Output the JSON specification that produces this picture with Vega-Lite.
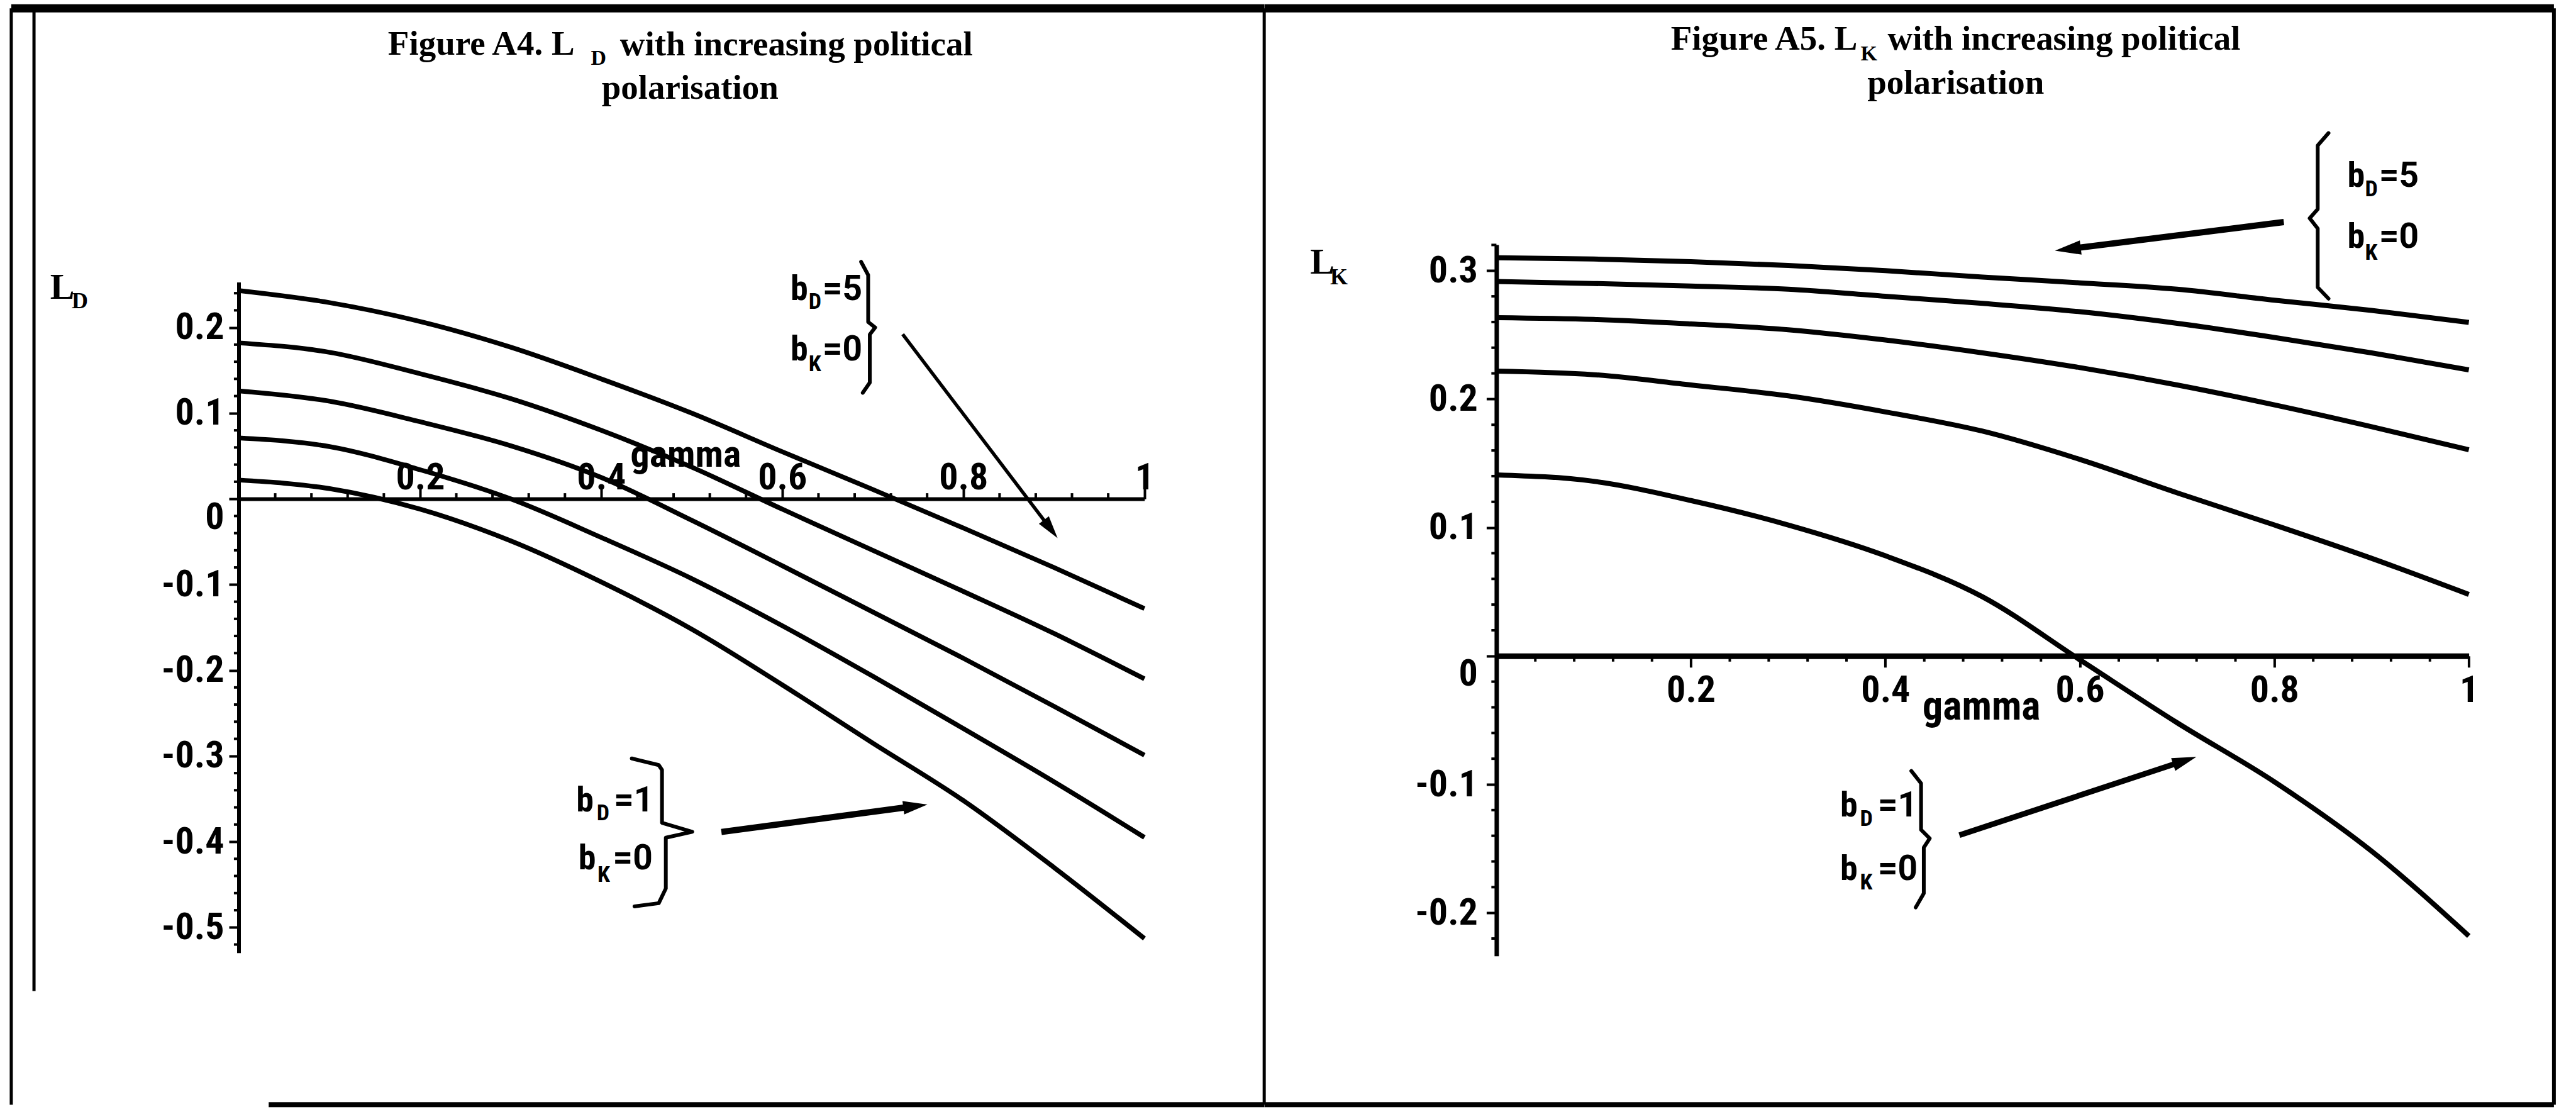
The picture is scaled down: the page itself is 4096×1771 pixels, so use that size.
{
  "$schema": "https://vega.github.io/schema/vega-lite/v6.json",
  "background": "white",
  "padding": {"left": 11, "top": 6, "right": 0, "bottom": 0},
  "bounds": "flush",
  "spacing": 559.4,
  "datasets": {
    "ld": [
      {"bD": 5, "gamma": 0, "L": 0.243}, {"bD": 5, "gamma": 0.1, "L": 0.229}, {"bD": 5, "gamma": 0.2, "L": 0.207}, {"bD": 5, "gamma": 0.3, "L": 0.177}, {"bD": 5, "gamma": 0.4, "L": 0.140}, {"bD": 5, "gamma": 0.5, "L": 0.100}, {"bD": 5, "gamma": 0.6, "L": 0.055}, {"bD": 5, "gamma": 0.7, "L": 0.011}, {"bD": 5, "gamma": 0.8, "L": -0.034}, {"bD": 5, "gamma": 0.9, "L": -0.080}, {"bD": 5, "gamma": 1, "L": -0.128},
      {"bD": 4, "gamma": 0, "L": 0.182}, {"bD": 4, "gamma": 0.1, "L": 0.171}, {"bD": 4, "gamma": 0.2, "L": 0.146}, {"bD": 4, "gamma": 0.3, "L": 0.117}, {"bD": 4, "gamma": 0.4, "L": 0.080}, {"bD": 4, "gamma": 0.5, "L": 0.037}, {"bD": 4, "gamma": 0.6, "L": -0.012}, {"bD": 4, "gamma": 0.7, "L": -0.060}, {"bD": 4, "gamma": 0.8, "L": -0.108}, {"bD": 4, "gamma": 0.9, "L": -0.157}, {"bD": 4, "gamma": 1, "L": -0.210},
      {"bD": 3, "gamma": 0, "L": 0.126}, {"bD": 3, "gamma": 0.1, "L": 0.114}, {"bD": 3, "gamma": 0.2, "L": 0.090}, {"bD": 3, "gamma": 0.3, "L": 0.062}, {"bD": 3, "gamma": 0.4, "L": 0.025}, {"bD": 3, "gamma": 0.5, "L": -0.025}, {"bD": 3, "gamma": 0.6, "L": -0.078}, {"bD": 3, "gamma": 0.7, "L": -0.132}, {"bD": 3, "gamma": 0.8, "L": -0.186}, {"bD": 3, "gamma": 0.9, "L": -0.242}, {"bD": 3, "gamma": 1, "L": -0.299},
      {"bD": 2, "gamma": 0, "L": 0.071}, {"bD": 2, "gamma": 0.1, "L": 0.061}, {"bD": 2, "gamma": 0.2, "L": 0.034}, {"bD": 2, "gamma": 0.3, "L": 0.000}, {"bD": 2, "gamma": 0.4, "L": -0.045}, {"bD": 2, "gamma": 0.5, "L": -0.093}, {"bD": 2, "gamma": 0.6, "L": -0.148}, {"bD": 2, "gamma": 0.7, "L": -0.207}, {"bD": 2, "gamma": 0.8, "L": -0.268}, {"bD": 2, "gamma": 0.9, "L": -0.330}, {"bD": 2, "gamma": 1, "L": -0.395},
      {"bD": 1, "gamma": 0, "L": 0.022}, {"bD": 1, "gamma": 0.1, "L": 0.012}, {"bD": 1, "gamma": 0.2, "L": -0.012}, {"bD": 1, "gamma": 0.3, "L": -0.049}, {"bD": 1, "gamma": 0.4, "L": -0.097}, {"bD": 1, "gamma": 0.5, "L": -0.152}, {"bD": 1, "gamma": 0.6, "L": -0.217}, {"bD": 1, "gamma": 0.7, "L": -0.285}, {"bD": 1, "gamma": 0.8, "L": -0.352}, {"bD": 1, "gamma": 0.9, "L": -0.430}, {"bD": 1, "gamma": 1, "L": -0.513}
    ],
    "lk": [
      {"bD": 5, "gamma": 0, "L": 0.310}, {"bD": 5, "gamma": 0.1, "L": 0.309}, {"bD": 5, "gamma": 0.2, "L": 0.307}, {"bD": 5, "gamma": 0.3, "L": 0.304}, {"bD": 5, "gamma": 0.4, "L": 0.300}, {"bD": 5, "gamma": 0.5, "L": 0.295}, {"bD": 5, "gamma": 0.6, "L": 0.2905}, {"bD": 5, "gamma": 0.7, "L": 0.2855}, {"bD": 5, "gamma": 0.8, "L": 0.277}, {"bD": 5, "gamma": 0.9, "L": 0.269}, {"bD": 5, "gamma": 1, "L": 0.2597},
      {"bD": 4, "gamma": 0, "L": 0.2916}, {"bD": 4, "gamma": 0.1, "L": 0.290}, {"bD": 4, "gamma": 0.2, "L": 0.288}, {"bD": 4, "gamma": 0.3, "L": 0.2855}, {"bD": 4, "gamma": 0.4, "L": 0.280}, {"bD": 4, "gamma": 0.5, "L": 0.2745}, {"bD": 4, "gamma": 0.6, "L": 0.268}, {"bD": 4, "gamma": 0.7, "L": 0.259}, {"bD": 4, "gamma": 0.8, "L": 0.248}, {"bD": 4, "gamma": 0.9, "L": 0.236}, {"bD": 4, "gamma": 1, "L": 0.2227},
      {"bD": 3, "gamma": 0, "L": 0.2634}, {"bD": 3, "gamma": 0.1, "L": 0.262}, {"bD": 3, "gamma": 0.2, "L": 0.2585}, {"bD": 3, "gamma": 0.3, "L": 0.254}, {"bD": 3, "gamma": 0.4, "L": 0.246}, {"bD": 3, "gamma": 0.5, "L": 0.236}, {"bD": 3, "gamma": 0.6, "L": 0.2245}, {"bD": 3, "gamma": 0.7, "L": 0.211}, {"bD": 3, "gamma": 0.8, "L": 0.1955}, {"bD": 3, "gamma": 0.9, "L": 0.1785}, {"bD": 3, "gamma": 1, "L": 0.1605},
      {"bD": 2, "gamma": 0, "L": 0.2218}, {"bD": 2, "gamma": 0.1, "L": 0.219}, {"bD": 2, "gamma": 0.2, "L": 0.211}, {"bD": 2, "gamma": 0.3, "L": 0.2025}, {"bD": 2, "gamma": 0.4, "L": 0.190}, {"bD": 2, "gamma": 0.5, "L": 0.175}, {"bD": 2, "gamma": 0.6, "L": 0.153}, {"bD": 2, "gamma": 0.7, "L": 0.127}, {"bD": 2, "gamma": 0.8, "L": 0.102}, {"bD": 2, "gamma": 0.9, "L": 0.076}, {"bD": 2, "gamma": 1, "L": 0.0479},
      {"bD": 1, "gamma": 0, "L": 0.141}, {"bD": 1, "gamma": 0.1, "L": 0.136}, {"bD": 1, "gamma": 0.2, "L": 0.121}, {"bD": 1, "gamma": 0.3, "L": 0.102}, {"bD": 1, "gamma": 0.4, "L": 0.078}, {"bD": 1, "gamma": 0.5, "L": 0.046}, {"bD": 1, "gamma": 0.6, "L": -0.003}, {"bD": 1, "gamma": 0.7, "L": -0.052}, {"bD": 1, "gamma": 0.8, "L": -0.098}, {"bD": 1, "gamma": 0.9, "L": -0.152}, {"bD": 1, "gamma": 1, "L": -0.218}
    ],
    "bracesD": [
      {"brace": "upper", "i": 0, "gamma": 0.6871, "L": 0.2766}, {"brace": "upper", "i": 1, "gamma": 0.6949, "L": 0.2612}, {"brace": "upper", "i": 2, "gamma": 0.6949, "L": 0.2064}, {"brace": "upper", "i": 3, "gamma": 0.7026, "L": 0.2000}, {"brace": "upper", "i": 4, "gamma": 0.6967, "L": 0.1918}, {"brace": "upper", "i": 5, "gamma": 0.6967, "L": 0.1357}, {"brace": "upper", "i": 6, "gamma": 0.6889, "L": 0.1238},
      {"brace": "lower", "i": 0, "gamma": 0.4338, "L": -0.3029}, {"brace": "lower", "i": 1, "gamma": 0.4636, "L": -0.3106}, {"brace": "lower", "i": 2, "gamma": 0.4672, "L": -0.3163}, {"brace": "lower", "i": 3, "gamma": 0.4672, "L": -0.3780}, {"brace": "lower", "i": 4, "gamma": 0.5006, "L": -0.3885}, {"brace": "lower", "i": 5, "gamma": 0.4714, "L": -0.3954}, {"brace": "lower", "i": 6, "gamma": 0.4714, "L": -0.4546}, {"brace": "lower", "i": 7, "gamma": 0.4636, "L": -0.4718}, {"brace": "lower", "i": 8, "gamma": 0.4368, "L": -0.4755}
    ],
    "bracesK": [
      {"brace": "upper", "i": 0, "gamma": 0.8557, "L": 0.4071}, {"brace": "upper", "i": 1, "gamma": 0.8446, "L": 0.3975}, {"brace": "upper", "i": 2, "gamma": 0.8446, "L": 0.3479}, {"brace": "upper", "i": 3, "gamma": 0.8363, "L": 0.3408}, {"brace": "upper", "i": 4, "gamma": 0.8446, "L": 0.3328}, {"brace": "upper", "i": 5, "gamma": 0.8446, "L": 0.2870}, {"brace": "upper", "i": 6, "gamma": 0.8557, "L": 0.2782},
      {"brace": "lower", "i": 0, "gamma": 0.4267, "L": -0.0895}, {"brace": "lower", "i": 1, "gamma": 0.4367, "L": -0.0992}, {"brace": "lower", "i": 2, "gamma": 0.4367, "L": -0.1353}, {"brace": "lower", "i": 3, "gamma": 0.4456, "L": -0.1420}, {"brace": "lower", "i": 4, "gamma": 0.4395, "L": -0.1492}, {"brace": "lower", "i": 5, "gamma": 0.4395, "L": -0.1849}, {"brace": "lower", "i": 6, "gamma": 0.4312, "L": -0.1958}
    ],
    "minorYD": [{"v": -0.52}, {"v": -0.48}, {"v": -0.46}, {"v": -0.44}, {"v": -0.42}, {"v": -0.38}, {"v": -0.36}, {"v": -0.34}, {"v": -0.32}, {"v": -0.28}, {"v": -0.26}, {"v": -0.24}, {"v": -0.22}, {"v": -0.18}, {"v": -0.16}, {"v": -0.14}, {"v": -0.12}, {"v": -0.08}, {"v": -0.06}, {"v": -0.04}, {"v": -0.02}, {"v": 0.02}, {"v": 0.04}, {"v": 0.06}, {"v": 0.08}, {"v": 0.12}, {"v": 0.14}, {"v": 0.16}, {"v": 0.18}, {"v": 0.22}, {"v": 0.24}],
    "minorYK": [{"v": -0.22}, {"v": -0.18}, {"v": -0.16}, {"v": -0.14}, {"v": -0.12}, {"v": -0.08}, {"v": -0.06}, {"v": -0.04}, {"v": -0.02}, {"v": 0.02}, {"v": 0.04}, {"v": 0.06}, {"v": 0.08}, {"v": 0.12}, {"v": 0.14}, {"v": 0.16}, {"v": 0.18}, {"v": 0.22}, {"v": 0.24}, {"v": 0.26}, {"v": 0.28}, {"v": 0.32}],
    "minorX": [{"g": 0.04}, {"g": 0.08}, {"g": 0.12}, {"g": 0.16}, {"g": 0.24}, {"g": 0.28}, {"g": 0.32}, {"g": 0.36}, {"g": 0.44}, {"g": 0.48}, {"g": 0.52}, {"g": 0.56}, {"g": 0.64}, {"g": 0.68}, {"g": 0.72}, {"g": 0.76}, {"g": 0.84}, {"g": 0.88}, {"g": 0.92}, {"g": 0.96}]
  },
  "hconcat": [
    {
      "width": 1439.7,
      "height": 1130.8,
      "data": {"values": [{}]},
      "layer": [
        {
          "data": {"name": "ld"},
          "mark": {"type": "line", "color": "black", "strokeWidth": 7.5, "interpolate": "monotone"},
          "encoding": {
            "x": {"field": "gamma", "type": "quantitative",
              "scale": {"domain": [0, 1], "nice": false, "zero": false},
              "axis": {"title": null, "orient": "top", "offset": -404.1, "labelOverlap": false,
                "values": [0, 0.2, 0.4, 0.6, 0.8, 1],
                "labelExpr": "datum.value > 0.01 ? '' + round(datum.value*5)/5 : ''",
                "tickSize": 18, "domainWidth": 6, "labelPadding": -2, "labelBaseline": "alphabetic"}},
            "y": {"field": "L", "type": "quantitative",
              "scale": {"domain": [-0.5334, 0.2966], "nice": false, "zero": false},
              "axis": {"title": null, "orient": "left", "domain": false, "labelOverlap": false,
                "values": [-0.5, -0.4, -0.3, -0.2, -0.1, 0, 0.1, 0.2],
                "labelExpr": "'' + round(datum.value*10)/10",
                "tickSize": 16,
                "labelBaseline": {"condition": {"test": "datum.value == 0", "value": "top"}, "value": "middle"},
                "labelPadding": 8}},
            "detail": {"field": "bD"}
          }
        },
        {"mark": {"type": "rule", "color": "black", "strokeWidth": 6},
         "encoding": {"x": {"datum": 0, "type": "quantitative"}, "y": {"datum": -0.53, "type": "quantitative"}, "y2": {"datum": 0.2525}}},
        {"data": {"name": "minorYD"}, "mark": {"type": "rule", "color": "black", "strokeWidth": 4},
         "encoding": {"y": {"field": "v", "type": "quantitative"}, "x": {"datum": -0.0056, "type": "quantitative"}, "x2": {"datum": 0}}},
        {"data": {"name": "minorX"}, "mark": {"type": "rule", "color": "black", "strokeWidth": 4},
         "encoding": {"x": {"field": "g", "type": "quantitative"}, "y": {"datum": 0, "type": "quantitative"}, "y2": {"datum": 0.0066}}},
        {"mark": {"type": "rule", "color": "black", "strokeWidth": 5},
         "encoding": {"x": {"datum": -0.2515, "type": "quantitative"}, "y": {"datum": 0.5724, "type": "quantitative"}, "y2": {"datum": -0.7069}}},
        {"mark": {"type": "rule", "color": "black", "strokeWidth": 5},
         "encoding": {"x": {"datum": -0.2264, "type": "quantitative"}, "y": {"datum": 0.5724, "type": "quantitative"}, "y2": {"datum": -0.5743}}},
        {"mark": {"type": "rule", "color": "black", "strokeWidth": 13},
         "encoding": {"x": {"datum": -0.2515, "type": "quantitative"}, "x2": {"datum": 1.1323}, "y": {"datum": 0.5724, "type": "quantitative"}}},
        {"mark": {"type": "rule", "color": "black", "strokeWidth": 5},
         "encoding": {"x": {"datum": 1.1323, "type": "quantitative"}, "y": {"datum": 0.5724, "type": "quantitative"}, "y2": {"datum": -0.7069}}},
        {"mark": {"type": "rule", "color": "black", "strokeWidth": 8},
         "encoding": {"x": {"datum": 0.0328, "type": "quantitative"}, "x2": {"datum": 1.1323}, "y": {"datum": -0.7069, "type": "quantitative"}}},
        {
          "data": {"name": "bracesD"},
          "mark": {"type": "line", "color": "black", "strokeWidth": 6, "strokeJoin": "round", "strokeCap": "round"},
          "encoding": {
            "x": {"field": "gamma", "type": "quantitative"},
            "y": {"field": "L", "type": "quantitative"},
            "detail": {"field": "brace"},
            "order": {"field": "i", "type": "quantitative"}
          }
        },
        {"mark": {"type": "rule", "color": "black", "strokeWidth": 5.5},
         "encoding": {"x": {"datum": 0.7330, "type": "quantitative"}, "y": {"datum": 0.1921, "type": "quantitative"}, "x2": {"datum": 0.8936}, "y2": {"datum": -0.0312}}},
        {"mark": {"type": "point", "shape": "M0,0L0.55,2L-0.55,2Z", "filled": true, "color": "black", "opacity": 1, "size": 1300, "angle": 142.8},
         "encoding": {"x": {"datum": 0.9041, "type": "quantitative"}, "y": {"datum": -0.0458, "type": "quantitative"}}},
        {"mark": {"type": "rule", "color": "black", "strokeWidth": 10},
         "encoding": {"x": {"datum": 0.5328, "type": "quantitative"}, "y": {"datum": -0.3887, "type": "quantitative"}, "x2": {"datum": 0.7432}, "y2": {"datum": -0.3591}}},
        {"mark": {"type": "point", "shape": "M0,0L0.55,2L-0.55,2Z", "filled": true, "color": "black", "opacity": 1, "size": 1500, "angle": 82.4},
         "encoding": {"x": {"datum": 0.7604, "type": "quantitative"}, "y": {"datum": -0.3567, "type": "quantitative"}}},
        {"mark": {"type": "text", "text": "Figure A4. L", "align": "right", "baseline": "alphabetic", "font": "Liberation Serif, DejaVu Serif, serif", "fontSize": 55, "fontWeight": "bold"},
         "encoding": {"x": {"datum": 0.3707, "type": "quantitative"}, "y": {"datum": 0.5186, "type": "quantitative"}}},
        {"mark": {"type": "text", "text": "D", "align": "left", "baseline": "alphabetic", "font": "Liberation Serif, DejaVu Serif, serif", "fontSize": 34, "fontWeight": "bold"},
         "encoding": {"x": {"datum": 0.3886, "type": "quantitative"}, "y": {"datum": 0.5063, "type": "quantitative"}}},
        {"mark": {"type": "text", "text": "with increasing political", "align": "left", "baseline": "alphabetic", "font": "Liberation Serif, DejaVu Serif, serif", "fontSize": 55, "fontWeight": "bold"},
         "encoding": {"x": {"datum": 0.4207, "type": "quantitative"}, "y": {"datum": 0.5178, "type": "quantitative"}}},
        {"mark": {"type": "text", "text": "polarisation", "align": "center", "baseline": "alphabetic", "font": "Liberation Serif, DejaVu Serif, serif", "fontSize": 55, "fontWeight": "bold"},
         "encoding": {"x": {"datum": 0.4982, "type": "quantitative"}, "y": {"datum": 0.4669, "type": "quantitative"}}},
        {"mark": {"type": "text", "text": "L", "align": "left", "baseline": "alphabetic", "font": "Liberation Serif, DejaVu Serif, serif", "fontSize": 58, "fontWeight": "bold"},
         "encoding": {"x": {"datum": -0.2086, "type": "quantitative"}, "y": {"datum": 0.2335, "type": "quantitative"}}},
        {"mark": {"type": "text", "text": "D", "align": "left", "baseline": "alphabetic", "font": "Liberation Serif, DejaVu Serif, serif", "fontSize": 36, "fontWeight": "bold"},
         "encoding": {"x": {"datum": -0.1847, "type": "quantitative"}, "y": {"datum": 0.2225, "type": "quantitative"}}},
        {"mark": {"type": "text", "text": "gamma", "align": "center", "baseline": "alphabetic", "font": "Roboto Condensed, Roboto, Liberation Sans, sans-serif", "fontSize": 60, "fontWeight": "bold"},
         "encoding": {"x": {"datum": 0.4934, "type": "quantitative"}, "y": {"datum": 0.0378, "type": "quantitative"}}},
        {"mark": {"type": "text", "text": "b", "align": "left", "baseline": "alphabetic", "font": "Roboto Condensed, Roboto, Liberation Sans, sans-serif", "fontSize": 56, "fontWeight": "bold"},
         "encoding": {"x": {"datum": 0.6091, "type": "quantitative"}, "y": {"datum": 0.2317, "type": "quantitative"}}},
        {"mark": {"type": "text", "text": "D", "align": "left", "baseline": "alphabetic", "font": "Roboto Condensed, Roboto, Liberation Sans, sans-serif", "fontSize": 36, "fontWeight": "bold"},
         "encoding": {"x": {"datum": 0.6291, "type": "quantitative"}, "y": {"datum": 0.2217, "type": "quantitative"}}},
        {"mark": {"type": "text", "text": "=5", "align": "left", "baseline": "alphabetic", "font": "Roboto, Liberation Sans, sans-serif", "fontSize": 55, "fontWeight": "bold"},
         "encoding": {"x": {"datum": 0.6446, "type": "quantitative"}, "y": {"datum": 0.2317, "type": "quantitative"}}},
        {"mark": {"type": "text", "text": "b", "align": "left", "baseline": "alphabetic", "font": "Roboto Condensed, Roboto, Liberation Sans, sans-serif", "fontSize": 56, "fontWeight": "bold"},
         "encoding": {"x": {"datum": 0.6091, "type": "quantitative"}, "y": {"datum": 0.1612, "type": "quantitative"}}},
        {"mark": {"type": "text", "text": "K", "align": "left", "baseline": "alphabetic", "font": "Roboto Condensed, Roboto, Liberation Sans, sans-serif", "fontSize": 36, "fontWeight": "bold"},
         "encoding": {"x": {"datum": 0.6291, "type": "quantitative"}, "y": {"datum": 0.1492, "type": "quantitative"}}},
        {"mark": {"type": "text", "text": "=0", "align": "left", "baseline": "alphabetic", "font": "Roboto, Liberation Sans, sans-serif", "fontSize": 55, "fontWeight": "bold"},
         "encoding": {"x": {"datum": 0.6446, "type": "quantitative"}, "y": {"datum": 0.1612, "type": "quantitative"}}},
        {"mark": {"type": "text", "text": "b", "align": "left", "baseline": "alphabetic", "font": "Roboto Condensed, Roboto, Liberation Sans, sans-serif", "fontSize": 56, "fontWeight": "bold"},
         "encoding": {"x": {"datum": 0.3725, "type": "quantitative"}, "y": {"datum": -0.3650, "type": "quantitative"}}},
        {"mark": {"type": "text", "text": "D", "align": "left", "baseline": "alphabetic", "font": "Roboto Condensed, Roboto, Liberation Sans, sans-serif", "fontSize": 36, "fontWeight": "bold"},
         "encoding": {"x": {"datum": 0.3950, "type": "quantitative"}, "y": {"datum": -0.3751, "type": "quantitative"}}},
        {"mark": {"type": "text", "text": "=1", "align": "left", "baseline": "alphabetic", "font": "Roboto, Liberation Sans, sans-serif", "fontSize": 55, "fontWeight": "bold"},
         "encoding": {"x": {"datum": 0.4142, "type": "quantitative"}, "y": {"datum": -0.3650, "type": "quantitative"}}},
        {"mark": {"type": "text", "text": "b", "align": "left", "baseline": "alphabetic", "font": "Roboto Condensed, Roboto, Liberation Sans, sans-serif", "fontSize": 56, "fontWeight": "bold"},
         "encoding": {"x": {"datum": 0.3749, "type": "quantitative"}, "y": {"datum": -0.4324, "type": "quantitative"}}},
        {"mark": {"type": "text", "text": "K", "align": "left", "baseline": "alphabetic", "font": "Roboto Condensed, Roboto, Liberation Sans, sans-serif", "fontSize": 36, "fontWeight": "bold"},
         "encoding": {"x": {"datum": 0.3960, "type": "quantitative"}, "y": {"datum": -0.4468, "type": "quantitative"}}},
        {"mark": {"type": "text", "text": "=0", "align": "left", "baseline": "alphabetic", "font": "Roboto, Liberation Sans, sans-serif", "fontSize": 55, "fontWeight": "bold"},
         "encoding": {"x": {"datum": 0.4130, "type": "quantitative"}, "y": {"datum": -0.4324, "type": "quantitative"}}}
      ]
    },
    {
      "width": 1546.2,
      "height": 1130.8,
      "data": {"values": [{}]},
      "layer": [
        {
          "data": {"name": "lk"},
          "mark": {"type": "line", "color": "black", "strokeWidth": 8, "interpolate": "monotone"},
          "encoding": {
            "x": {"field": "gamma", "type": "quantitative",
              "scale": {"domain": [0, 1], "nice": false, "zero": false},
              "axis": {"title": null, "orient": "bottom", "offset": -477, "labelOverlap": false,
                "values": [0, 0.2, 0.4, 0.6, 0.8, 1],
                "labelExpr": "datum.value > 0.01 ? '' + round(datum.value*5)/5 : ''",
                "tickSize": 18, "domainWidth": 9, "labelPadding": 55, "labelBaseline": "alphabetic"}},
            "y": {"field": "L", "type": "quantitative",
              "scale": {"domain": [-0.2336, 0.3202], "nice": false, "zero": false},
              "axis": {"title": null, "orient": "left", "domainWidth": 7, "labelOverlap": false,
                "values": [-0.2, -0.1, 0, 0.1, 0.2, 0.3],
                "labelExpr": "'' + round(datum.value*10)/10",
                "tickSize": 16,
                "labelBaseline": {"condition": {"test": "datum.value == 0", "value": "top"}, "value": "middle"},
                "labelPadding": 14}},
            "detail": {"field": "bD"}
          }
        },
        {"data": {"name": "minorYK"}, "mark": {"type": "rule", "color": "black", "strokeWidth": 4},
         "encoding": {"y": {"field": "v", "type": "quantitative"}, "x": {"datum": -0.0052, "type": "quantitative"}, "x2": {"datum": 0}}},
        {"data": {"name": "minorX"}, "mark": {"type": "rule", "color": "black", "strokeWidth": 4},
         "encoding": {"x": {"field": "g", "type": "quantitative"}, "y": {"datum": 0, "type": "quantitative"}, "y2": {"datum": -0.0044}}},
        {"mark": {"type": "rule", "color": "black", "strokeWidth": 13},
         "encoding": {"x": {"datum": -0.2386, "type": "quantitative"}, "x2": {"datum": 1.0875}, "y": {"datum": 0.5042, "type": "quantitative"}}},
        {"mark": {"type": "rule", "color": "black", "strokeWidth": 6},
         "encoding": {"x": {"datum": 1.0875, "type": "quantitative"}, "y": {"datum": 0.5042, "type": "quantitative"}, "y2": {"datum": -0.3494}}},
        {"mark": {"type": "rule", "color": "black", "strokeWidth": 8},
         "encoding": {"x": {"datum": -0.2386, "type": "quantitative"}, "x2": {"datum": 1.0875}, "y": {"datum": -0.3494, "type": "quantitative"}}},
        {
          "data": {"name": "bracesK"},
          "mark": {"type": "line", "color": "black", "strokeWidth": 6, "strokeJoin": "round", "strokeCap": "round"},
          "encoding": {
            "x": {"field": "gamma", "type": "quantitative"},
            "y": {"field": "L", "type": "quantitative"},
            "detail": {"field": "brace"},
            "order": {"field": "i", "type": "quantitative"}
          }
        },
        {"mark": {"type": "rule", "color": "black", "strokeWidth": 10},
         "encoding": {"x": {"datum": 0.8097, "type": "quantitative"}, "y": {"datum": 0.3378, "type": "quantitative"}, "x2": {"datum": 0.5904}, "y2": {"datum": 0.3170}}},
        {"mark": {"type": "point", "shape": "M0,0L0.55,2L-0.55,2Z", "filled": true, "color": "black", "opacity": 1, "size": 1700, "angle": 262.9},
         "encoding": {"x": {"datum": 0.5744, "type": "quantitative"}, "y": {"datum": 0.3155, "type": "quantitative"}}},
        {"mark": {"type": "rule", "color": "black", "strokeWidth": 9},
         "encoding": {"x": {"datum": 0.4761, "type": "quantitative"}, "y": {"datum": -0.1395, "type": "quantitative"}, "x2": {"datum": 0.7044}, "y2": {"datum": -0.0824}}},
        {"mark": {"type": "point", "shape": "M0,0L0.55,2L-0.55,2Z", "filled": true, "color": "black", "opacity": 1, "size": 1500, "angle": 71.8},
         "encoding": {"x": {"datum": 0.7198, "type": "quantitative"}, "y": {"datum": -0.0786, "type": "quantitative"}}},
        {"mark": {"type": "text", "text": "Figure A5. L", "align": "right", "baseline": "alphabetic", "font": "Liberation Serif, DejaVu Serif, serif", "fontSize": 55, "fontWeight": "bold"},
         "encoding": {"x": {"datum": 0.3713, "type": "quantitative"}, "y": {"datum": 0.4718, "type": "quantitative"}}},
        {"mark": {"type": "text", "text": "K", "align": "left", "baseline": "alphabetic", "font": "Liberation Serif, DejaVu Serif, serif", "fontSize": 34, "fontWeight": "bold"},
         "encoding": {"x": {"datum": 0.3746, "type": "quantitative"}, "y": {"datum": 0.4639, "type": "quantitative"}}},
        {"mark": {"type": "text", "text": "with increasing political", "align": "left", "baseline": "alphabetic", "font": "Liberation Serif, DejaVu Serif, serif", "fontSize": 55, "fontWeight": "bold"},
         "encoding": {"x": {"datum": 0.4023, "type": "quantitative"}, "y": {"datum": 0.4718, "type": "quantitative"}}},
        {"mark": {"type": "text", "text": "polarisation", "align": "center", "baseline": "alphabetic", "font": "Liberation Serif, DejaVu Serif, serif", "fontSize": 55, "fontWeight": "bold"},
         "encoding": {"x": {"datum": 0.4723, "type": "quantitative"}, "y": {"datum": 0.4378, "type": "quantitative"}}},
        {"mark": {"type": "text", "text": "L", "align": "left", "baseline": "alphabetic", "font": "Liberation Serif, DejaVu Serif, serif", "fontSize": 58, "fontWeight": "bold"},
         "encoding": {"x": {"datum": -0.1915, "type": "quantitative"}, "y": {"datum": 0.2975, "type": "quantitative"}}},
        {"mark": {"type": "text", "text": "K", "align": "left", "baseline": "alphabetic", "font": "Liberation Serif, DejaVu Serif, serif", "fontSize": 36, "fontWeight": "bold"},
         "encoding": {"x": {"datum": -0.1710, "type": "quantitative"}, "y": {"datum": 0.2895, "type": "quantitative"}}},
        {"mark": {"type": "text", "text": "gamma", "align": "center", "baseline": "alphabetic", "font": "Roboto Condensed, Roboto, Liberation Sans, sans-serif", "fontSize": 64, "fontWeight": "bold"},
         "encoding": {"x": {"datum": 0.4989, "type": "quantitative"}, "y": {"datum": -0.0496, "type": "quantitative"}}},
        {"mark": {"type": "text", "text": "b", "align": "left", "baseline": "alphabetic", "font": "Roboto Condensed, Roboto, Liberation Sans, sans-serif", "fontSize": 56, "fontWeight": "bold"},
         "encoding": {"x": {"datum": 0.8751, "type": "quantitative"}, "y": {"datum": 0.3655, "type": "quantitative"}}},
        {"mark": {"type": "text", "text": "D", "align": "left", "baseline": "alphabetic", "font": "Roboto Condensed, Roboto, Liberation Sans, sans-serif", "fontSize": 36, "fontWeight": "bold"},
         "encoding": {"x": {"datum": 0.8933, "type": "quantitative"}, "y": {"datum": 0.3580, "type": "quantitative"}}},
        {"mark": {"type": "text", "text": "=5", "align": "left", "baseline": "alphabetic", "font": "Roboto, Liberation Sans, sans-serif", "fontSize": 55, "fontWeight": "bold"},
         "encoding": {"x": {"datum": 0.9078, "type": "quantitative"}, "y": {"datum": 0.3655, "type": "quantitative"}}},
        {"mark": {"type": "text", "text": "b", "align": "left", "baseline": "alphabetic", "font": "Roboto Condensed, Roboto, Liberation Sans, sans-serif", "fontSize": 56, "fontWeight": "bold"},
         "encoding": {"x": {"datum": 0.8751, "type": "quantitative"}, "y": {"datum": 0.3176, "type": "quantitative"}}},
        {"mark": {"type": "text", "text": "K", "align": "left", "baseline": "alphabetic", "font": "Roboto Condensed, Roboto, Liberation Sans, sans-serif", "fontSize": 36, "fontWeight": "bold"},
         "encoding": {"x": {"datum": 0.8933, "type": "quantitative"}, "y": {"datum": 0.3084, "type": "quantitative"}}},
        {"mark": {"type": "text", "text": "=0", "align": "left", "baseline": "alphabetic", "font": "Roboto, Liberation Sans, sans-serif", "fontSize": 55, "fontWeight": "bold"},
         "encoding": {"x": {"datum": 0.9078, "type": "quantitative"}, "y": {"datum": 0.3176, "type": "quantitative"}}},
        {"mark": {"type": "text", "text": "b", "align": "left", "baseline": "alphabetic", "font": "Roboto Condensed, Roboto, Liberation Sans, sans-serif", "fontSize": 56, "fontWeight": "bold"},
         "encoding": {"x": {"datum": 0.3535, "type": "quantitative"}, "y": {"datum": -0.1248, "type": "quantitative"}}},
        {"mark": {"type": "text", "text": "D", "align": "left", "baseline": "alphabetic", "font": "Roboto Condensed, Roboto, Liberation Sans, sans-serif", "fontSize": 36, "fontWeight": "bold"},
         "encoding": {"x": {"datum": 0.3739, "type": "quantitative"}, "y": {"datum": -0.1324, "type": "quantitative"}}},
        {"mark": {"type": "text", "text": "=1", "align": "left", "baseline": "alphabetic", "font": "Roboto, Liberation Sans, sans-serif", "fontSize": 55, "fontWeight": "bold"},
         "encoding": {"x": {"datum": 0.3923, "type": "quantitative"}, "y": {"datum": -0.1248, "type": "quantitative"}}},
        {"mark": {"type": "text", "text": "b", "align": "left", "baseline": "alphabetic", "font": "Roboto Condensed, Roboto, Liberation Sans, sans-serif", "fontSize": 56, "fontWeight": "bold"},
         "encoding": {"x": {"datum": 0.3535, "type": "quantitative"}, "y": {"datum": -0.1744, "type": "quantitative"}}},
        {"mark": {"type": "text", "text": "K", "align": "left", "baseline": "alphabetic", "font": "Roboto Condensed, Roboto, Liberation Sans, sans-serif", "fontSize": 36, "fontWeight": "bold"},
         "encoding": {"x": {"datum": 0.3739, "type": "quantitative"}, "y": {"datum": -0.1819, "type": "quantitative"}}},
        {"mark": {"type": "text", "text": "=0", "align": "left", "baseline": "alphabetic", "font": "Roboto, Liberation Sans, sans-serif", "fontSize": 55, "fontWeight": "bold"},
         "encoding": {"x": {"datum": 0.3923, "type": "quantitative"}, "y": {"datum": -0.1744, "type": "quantitative"}}}
      ]
    }
  ],
  "config": {
    "view": {"stroke": null},
    "axis": {
      "grid": false,
      "domainColor": "black",
      "domainWidth": 6,
      "tickColor": "black",
      "tickWidth": 4,
      "labelColor": "black",
      "labelFont": "Roboto Condensed, Roboto, Liberation Sans, sans-serif",
      "labelFontSize": 60,
      "labelFontWeight": "bold",
      "labelFlush": false,
      "labelOverlap": false,
      "labelBound": false
    }
  }
}
